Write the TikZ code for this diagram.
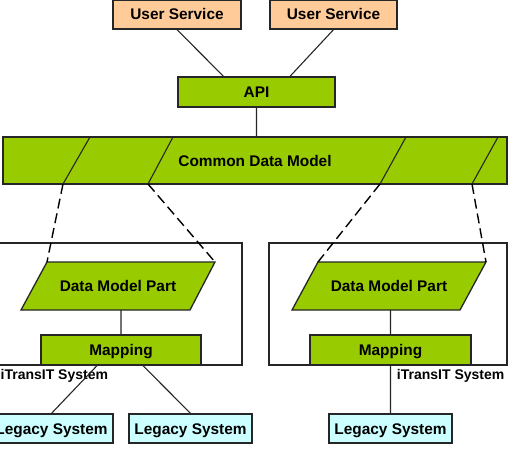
\documentclass[tikz,border=0pt]{standalone}
\usepackage{fontspec}
\setmainfont{Liberation Sans}
\definecolor{modelgreen}{HTML}{99CC00}
\definecolor{serviceorange}{HTML}{FFCC99}
\definecolor{legacycyan}{HTML}{CCFFFF}
\begin{document}
\begin{tikzpicture}[x = 1pt, y = -1pt,
                    every node/.style = {draw = black!85, line width = 1.3pt, inner sep = 0pt,
                                         text height = 11pt, text depth = 0pt,
                                         font = \fontsize{15.4}{18}\selectfont\bfseries},
                    block/.style = {rectangle, minimum height = 29pt},
                    partbox/.style = {draw = black!85, line width = 1.3pt, fill = modelgreen},
                    syslabel/.style = {draw = none, font = \fontsize{14}{16}\selectfont\bfseries},
                    link/.style = {draw = black!85, line width = 1.1pt},
                    dashlink/.style = {draw = black, line width = 1.4pt, dash pattern = on 10pt off 5pt}]
      \useasboundingbox (0, 0) rectangle (514, 452);

      \draw [line width = 1.1pt, draw = black!85] (-1, 243) rectangle (242, 365);
      \draw [line width = 1.1pt, draw = black!85] (269, 243) rectangle (507, 365);

      \node [block, fill = serviceorange, minimum width = 128pt] (us1) at (177, 14.5) {User Service};
      \node [block, fill = serviceorange, minimum width = 127pt] (us2) at (333.5, 14.5) {User Service};
      \node [block, fill = modelgreen, minimum width = 157pt, minimum height = 30pt] (api) at (256.5, 92) {API};
      \node [block, fill = modelgreen, minimum width = 504pt, minimum height = 47pt] (cdm) at (255, 160.5) {Common Data Model};

      \coordinate (s1t) at (90, 137);  \coordinate (s1b) at (63, 184);
      \coordinate (s2t) at (173, 137); \coordinate (s2b) at (148, 184);
      \coordinate (s3t) at (406, 137); \coordinate (s3b) at (380, 184);
      \coordinate (s4t) at (498, 137); \coordinate (s4b) at (472, 184);
      \draw [link] (s1t) -- (s1b)
                   (s2t) -- (s2b)
                   (s3t) -- (s3b)
                   (s4t) -- (s4b);

      \coordinate (pl1) at (47, 262);  \coordinate (pl2) at (215, 262);
      \coordinate (pl3) at (190, 310); \coordinate (pl4) at (21, 310);
      \coordinate (pr1) at (318, 262); \coordinate (pr2) at (486, 262);
      \coordinate (pr3) at (460, 310); \coordinate (pr4) at (292, 310);
      \draw [partbox] (pl1) -- (pl2) -- (pl3) -- (pl4) -- cycle;
      \draw [partbox] (pr1) -- (pr2) -- (pr3) -- (pr4) -- cycle;
      \node [draw = none] (dmpl) at (118, 286) {Data Model Part};
      \node [draw = none] (dmpr) at (389, 286) {Data Model Part};

      \node [block, fill = modelgreen, minimum width = 160pt, minimum height = 30pt] (mapl) at (121, 350) {Mapping};
      \node [block, fill = modelgreen, minimum width = 161pt, minimum height = 30pt] (mapr) at (390.5, 350) {Mapping};

      \node [syslabel, anchor = west] (sysl) at (0, 374) {iTransIT System};
      \node [syslabel, anchor = east] (sysr) at (505, 374) {iTransIT System};

      \node [block, fill = legacycyan, minimum width = 123pt] (leg1) at (51.5, 428.5) {Legacy System};
      \node [block, fill = legacycyan, minimum width = 123pt] (leg2) at (190.5, 428.5) {Legacy System};
      \node [block, fill = legacycyan, minimum width = 123pt] (leg3) at (390.5, 428.5) {Legacy System};

      \draw [link] (us1.south) -- ([xshift = -33pt] api.north)
                   (us2.south) -- ([xshift = 33.5pt] api.north)
                   (api.south) -- (api.south |- cdm.north)
                   (mapl.north |- pl3) -- (mapl.north)
                   (mapr.north |- pr3) -- (mapr.north)
                   ([xshift = -24pt] mapl.south) -- (leg1.north)
                   ([xshift = 22pt] mapl.south) -- (leg2.north)
                   (mapr.south) -- (leg3.north);
      \draw [dashlink] (s1b) -- (pl1)
                       (s2b) -- (pl2)
                       (s3b) -- (pr1)
                       (s4b) -- (pr2);
    \end{tikzpicture}
\end{document}
